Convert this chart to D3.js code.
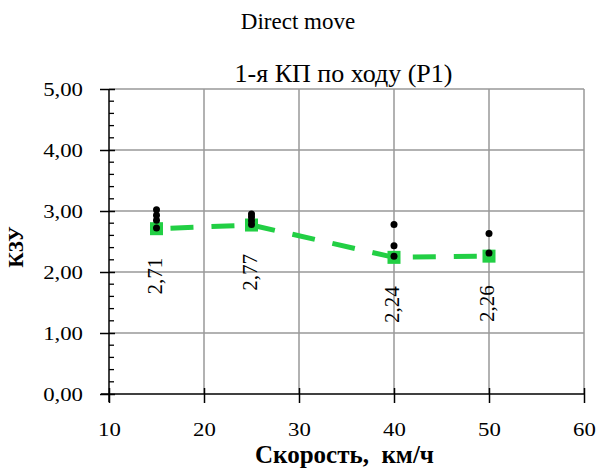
<!DOCTYPE html>
<html>
<head>
<meta charset="utf-8">
<script src="https://cdn.jsdelivr.net/npm/d3@7"></script>
<style>
  body { margin: 0; background: #fff; }
</style>
</head>
<body>
<svg id="my-svg" width="600" height="470"></svg>
<script>
const speeds = [15, 25, 40, 50];
const kzuMean = [2.71, 2.77, 2.24, 2.26];
const meanLabels = ['2,71', '2,77', '2,24', '2,26'];
const sampleSpeeds = [15, 15, 15, 15, 25, 25, 25, 25, 40, 40, 40, 50, 50];
const sampleKzu = [3.02, 2.93, 2.85, 2.72, 2.95, 2.90, 2.84, 2.78, 2.78, 2.43, 2.26, 2.63, 2.31];
const xTicks = [10, 20, 30, 40, 50, 60];
const yTicks = [0, 1, 2, 3, 4, 5];

const serif = "'Liberation Serif', 'Times New Roman', 'DejaVu Serif', serif";
const svg = d3.select('svg').attr('font-family', serif);
const margin = {top: 89, right: 16, bottom: 76, left: 109};
const innerWidth = 600 - margin.left - margin.right;
const innerHeight = 470 - margin.top - margin.bottom;

const xScale = d3.scaleLinear().domain([10, 60]).range([0, innerWidth]);
const yScale = d3.scaleLinear().domain([0, 5]).range([innerHeight, 0]);
const fmt = (d) => d3.format('.2f')(d).replace('.', ',');
const green = '#22cf44';

svg.append('text')
    .attr('x', 298).attr('y', 29)
    .attr('text-anchor', 'middle')
    .attr('font-family', serif)
    .attr('font-size', 23)
    .text('Direct move');

const g = svg.append('g')
    .attr('transform', `translate(${margin.left}, ${margin.top})`);

g.append('text')
    .attr('x', innerWidth / 2 - 3).attr('y', -7)
    .attr('text-anchor', 'middle')
    .attr('font-family', serif)
    .attr('font-size', 26)
    .text('1-я КП по ходу (P1)');

// grid
g.append('g').selectAll('line').data(xTicks.slice(1))
    .enter().append('line')
    .attr('x1', (d) => xScale(d)).attr('x2', (d) => xScale(d))
    .attr('y1', 0).attr('y2', innerHeight)
    .attr('stroke', '#999').attr('stroke-width', 1.5);

g.append('g').selectAll('line').data(yTicks.slice(1))
    .enter().append('line')
    .attr('x1', 0).attr('x2', innerWidth)
    .attr('y1', (d) => yScale(d)).attr('y2', (d) => yScale(d))
    .attr('stroke', '#999').attr('stroke-width', 1.5);

// y axis: major ticks crossing, minor ticks inside
const yAxisGroup = g.append('g');
yAxisGroup.call(d3.axisLeft(yScale).tickValues(yTicks).tickSize(8).tickPadding(18).tickFormat(fmt));
yAxisGroup.attr('font-family', serif);
yAxisGroup.select('.domain').remove();
yAxisGroup.selectAll('.tick line').attr('x1', -9).attr('x2', 6).attr('stroke-width', 1.5);
yAxisGroup.selectAll('.tick text')
    .attr('font-size', 19).attr('fill', '#000')
    .attr('x', -26 / 1.2)
    .attr('transform', 'scale(1.2,1)');
yAxisGroup.append('line')
    .attr('x1', 0).attr('x2', 0).attr('y1', 0).attr('y2', innerHeight + 8)
    .attr('stroke', '#000').attr('stroke-width', 1.5);
yAxisGroup.append('g').selectAll('line')
    .data(d3.range(0, 5.001, 0.2).filter((v) => Math.abs(v - Math.round(v)) > 0.01))
    .enter().append('line')
    .attr('x1', 0).attr('x2', 5)
    .attr('y1', (d) => yScale(d)).attr('y2', (d) => yScale(d))
    .attr('stroke', '#000').attr('stroke-width', 1.3);

// x axis
const xAxisGroup = g.append('g').attr('transform', `translate(0, ${innerHeight})`);
xAxisGroup.call(d3.axisBottom(xScale).tickValues(xTicks).tickSize(9).tickPadding(20));
xAxisGroup.attr('font-family', serif);
xAxisGroup.select('.domain').remove();
xAxisGroup.append('line')
    .attr('x1', -8).attr('x2', innerWidth).attr('y1', 0).attr('y2', 0)
    .attr('stroke', '#000').attr('stroke-width', 1.5);
xAxisGroup.selectAll('.tick line').attr('y1', -6).attr('stroke-width', 1.5);
xAxisGroup.selectAll('.tick text')
    .attr('font-size', 19).attr('fill', '#000')
    .attr('transform', 'scale(1.2,1)');

// axis titles
g.append('text')
    .attr('transform', `translate(${23 - margin.left}, ${247 - margin.top}) rotate(-90)`)
    .attr('text-anchor', 'middle')
    .attr('font-family', serif)
    .attr('font-size', 21).attr('font-weight', 'bold')
    .text('КЗУ');

g.append('text')
    .attr('x', innerWidth / 2 - 2).attr('y', innerHeight + 69)
    .attr('text-anchor', 'middle')
    .attr('font-family', serif)
    .attr('font-size', 25).attr('font-weight', 'bold')
    .style('white-space', 'pre')
    .text('Скорость,  км/ч');

// mean series: dashed green line with square markers
const meanData = speeds.map((s, i) => ({x: s, y: kzuMean[i], label: meanLabels[i]}));
const line = d3.line().x((d) => xScale(d.x)).y((d) => yScale(d.y));

g.append('path').datum(meanData)
    .attr('d', line)
    .attr('fill', 'none')
    .attr('stroke', green)
    .attr('stroke-width', 5)
    .attr('stroke-dasharray', '23,18')
    .attr('stroke-dashoffset', -14);

g.selectAll('.mark').data(meanData)
    .enter().append('rect')
    .attr('class', 'mark')
    .attr('x', (d) => xScale(d.x) - 6.5)
    .attr('y', (d) => yScale(d.y) - 6.5)
    .attr('width', 13).attr('height', 13)
    .attr('fill', green);

// sample points
const samples = sampleSpeeds.map((s, i) => ({x: s, y: sampleKzu[i]}));
g.selectAll('.dot').data(samples)
    .enter().append('circle')
    .attr('class', 'dot')
    .attr('cx', (d) => xScale(d.x))
    .attr('cy', (d) => yScale(d.y))
    .attr('r', 3.5)
    .attr('fill', '#000');

// value labels
g.selectAll('.val').data(meanData)
    .enter().append('text')
    .attr('class', 'val')
    .attr('transform', (d) => `translate(${xScale(d.x) + 5}, ${yScale(d.y) + 29}) rotate(-90)`)
    .attr('text-anchor', 'end')
    .attr('font-family', serif)
    .attr('font-size', 21)
    .text((d) => d.label);
</script>
</body>
</html>
